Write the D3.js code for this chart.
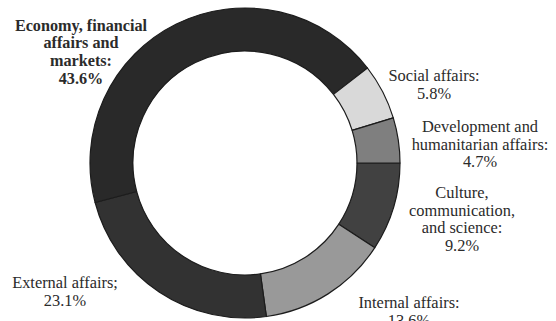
<!DOCTYPE html>
<html>
<head>
<meta charset="utf-8">
<script src="https://cdn.jsdelivr.net/npm/d3@7"></script>
<style>
  html, body { margin: 0; padding: 0; background: #ffffff; }
  svg { display: block; }
  text { font-family: "Liberation Serif", "Times New Roman", serif; fill: #2b2b2b; }
</style>
</head>
<body>
<svg id="chart" width="556" height="321"></svg>
<script>
// Budget shares by policy area, clockwise from 3 o'clock
const categories = [
  "Culture, communication, and science",
  "Internal affairs",
  "External affairs",
  "Economy, financial affairs and markets",
  "Social affairs",
  "Development and humanitarian affairs"
];
const shares = [9.2, 13.6, 23.1, 43.6, 5.8, 4.7];
const fills = ["#414141", "#999999", "#323232", "#292929", "#d9d9d9", "#7f7f7f"];

// Label text lines per category (last line carries the value)
const labelLines = [
  ["Culture,", "communication,", "and science:", "9.2%"],
  ["Internal affairs:", "13.6%"],
  ["External affairs;", "23.1%"],
  ["Economy, financial", "affairs and", "markets:", "43.6%"],
  ["Social affairs:", "5.8%"],
  ["Development and", "humanitarian affairs:", "4.7%"]
];
const labelBold = [false, false, false, true, false, false];

const svg = d3.select("#chart");
const cx = 245, cy = 163, rOuter = 155, rInner = 112;

const pie = d3.pie()
  .sort(null)
  .value(d => d)
  .startAngle(Math.PI / 2)
  .endAngle(Math.PI / 2 + 2 * Math.PI);

const arc = d3.arc().innerRadius(rInner).outerRadius(rOuter);
const arcs = pie(shares);

const g = svg.append("g").attr("transform", `translate(${cx},${cy})`);
g.selectAll("path")
  .data(arcs)
  .join("path")
  .attr("d", arc)
  .attr("fill", (d, i) => fills[i])
  .attr("stroke", "#1c1c1c")
  .attr("stroke-width", 1.2)
  .attr("stroke-linejoin", "round");

// Label anchor points (centre of the first line)
const labelPos = [
  [462, 192],
  [409, 302],
  [65, 282],
  [81, 25],
  [434, 75],
  [480, 126]
];
const lineStep = 17.8;

const labels = svg.append("g");
labelLines.forEach((lines, i) => {
  const t = labels.append("text")
    .attr("text-anchor", "middle")
    .attr("font-size", labelBold[i] ? 16.2 : 16.4)
    .attr("font-weight", labelBold[i] ? "bold" : "normal");
  lines.forEach((line, j) => {
    t.append("tspan")
      .attr("x", labelPos[i][0])
      .attr("y", labelPos[i][1] + j * lineStep)
      .attr("dy", "0.35em")
      .text(line);
  });
});
</script>
</body>
</html>
